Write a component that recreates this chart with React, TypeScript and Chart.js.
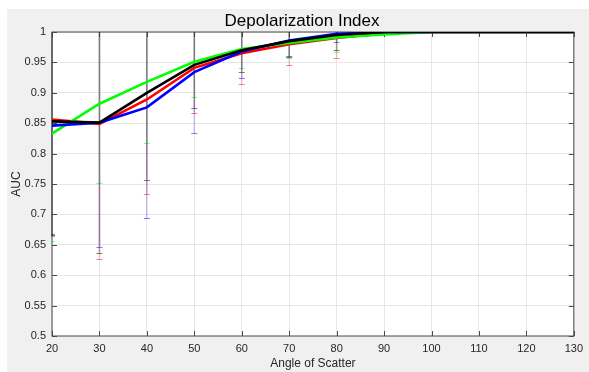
import React, { useEffect, useRef } from "react";
import { Chart, registerables } from "chart.js";

Chart.register(...registerables);

// ---- data ----
const angles = [20, 30, 40, 50, 60, 70, 80, 90, 100, 110, 120, 130];

const redAuc = [0.856, 0.849, 0.889, 0.941, 0.965, 0.98, 0.99, 0.998, 1, 1, 1, 1];
const greenAuc = [0.833, 0.882, 0.918, 0.951, 0.972, 0.982, 0.991, 0.996, 1, 1, 1, 1];
const blueAuc = [0.846, 0.851, 0.876, 0.934, 0.968, 0.986, 0.997, 1, 1, 1, 1, 1];
const blackAuc = [0.853, 0.851, 0.9, 0.946, 0.97, 0.985, 0.995, 1, 1, 1, 1, 1];

const redErr = [0.191, 0.223, 0.156, 0.075, 0.05, 0.035, 0.032, 0, 0, 0, 0, 0];
const greenErr = [0.177, 0.131, 0.1, 0.058, 0.032, 0.024, 0.024, 0, 0, 0, 0, 0];
const blueErr = [0.179, 0.204, 0.182, 0.1, 0.044, 0.026, 0.014, 0, 0, 0, 0, 0];
const blackErr = [0.187, 0.215, 0.143, 0.071, 0.035, 0.026, 0.025, 0, 0, 0, 0, 0];

const titleText = "Depolarization Index";
const xTitle = "Angle of Scatter";
const yTitle = "AUC";

const xTickValues = [20, 30, 40, 50, 60, 70, 80, 90, 100, 110, 120, 130];
const yTickValues = [0.5, 0.55, 0.6, 0.65, 0.7, 0.75, 0.8, 0.85, 0.9, 0.95, 1];

const AXIS_COLOR = "#4a4a4a";
const TEXT_COLOR = "#262626";
const FONT = "'Liberation Sans', Arial, Helvetica, sans-serif";

export default function App() {
  const ref = useRef<HTMLCanvasElement>(null);

  useEffect(() => {
    if (!ref.current) return;

    const series = [
      { label: "Black", data: blackAuc, err: blackErr, color: "#000000", rgb: "0,0,0" },
      { label: "Blue", data: blueAuc, err: blueErr, color: "#0000ff", rgb: "0,0,255" },
      { label: "Green", data: greenAuc, err: greenErr, color: "#00ff00", rgb: "0,255,0" },
      { label: "Red", data: redAuc, err: redErr, color: "#ff0000", rgb: "255,0,0" },
    ];

    const matlabPlugin = {
      id: "matlabStyle",
      beforeDraw(chart: any) {
        const { ctx, chartArea: a, width, height } = chart;
        ctx.save();
        ctx.fillStyle = "#f0f0f0";
        ctx.fillRect(0, 0, width, height);
        ctx.fillStyle = "#ffffff";
        ctx.fillRect(a.left, a.top, a.right - a.left, a.bottom - a.top);
        ctx.restore();
      },
      beforeDatasetsDraw(chart: any) {
        const { ctx, chartArea: a } = chart;
        const xs = chart.scales.x;
        const ys = chart.scales.y;
        ctx.save();
        // box
        ctx.strokeStyle = AXIS_COLOR;
        ctx.lineWidth = 1;
        ctx.strokeRect(a.left, a.top, a.right - a.left, a.bottom - a.top);
        // inward ticks
        ctx.beginPath();
        xTickValues.forEach((v) => {
          const px = Math.round(xs.getPixelForValue(v)) + 0.5;
          ctx.moveTo(px, a.bottom);
          ctx.lineTo(px, a.bottom - 5);
          ctx.moveTo(px, a.top);
          ctx.lineTo(px, a.top + 5);
        });
        yTickValues.forEach((v) => {
          const py = Math.round(ys.getPixelForValue(v)) + 0.5;
          ctx.moveTo(a.left, py);
          ctx.lineTo(a.left + 5, py);
          ctx.moveTo(a.right, py);
          ctx.lineTo(a.right - 5, py);
        });
        ctx.stroke();

        // error bars
        ctx.beginPath();
        ctx.rect(a.left - 1, a.top, a.right - a.left + 2, a.bottom - a.top);
        ctx.clip();
        series
          .slice()
          .reverse()
          .forEach((s) => {
            s.data.forEach((v, j) => {
              const e = s.err[j];
              if (!e) return;
              const px = xs.getPixelForValue(angles[j]);
              const yl = ys.getPixelForValue(v - e);
              const yh = ys.getPixelForValue(v + e);
              ctx.strokeStyle = `rgba(${s.rgb},0.2)`;
              ctx.lineWidth = 1.6;
              ctx.beginPath();
              ctx.moveTo(px, yl);
              ctx.lineTo(px, yh);
              ctx.stroke();
              ctx.strokeStyle = `rgba(${s.rgb},0.5)`;
              ctx.lineWidth = 1;
              ctx.beginPath();
              ctx.moveTo(px - 3, Math.round(yl) + 0.5);
              ctx.lineTo(px + 3, Math.round(yl) + 0.5);
              ctx.moveTo(px - 3, Math.round(yh) + 0.5);
              ctx.lineTo(px + 3, Math.round(yh) + 0.5);
              ctx.stroke();
            });
          });
        ctx.restore();
      },
      afterDraw(chart: any) {
        const { ctx } = chart;
        ctx.save();
        ctx.fillStyle = "#000000";
        ctx.font = `17px ${FONT}`;
        ctx.textAlign = "center";
        ctx.textBaseline = "alphabetic";
        ctx.fillText(titleText, 295, 17);
        ctx.restore();
      },
    };

    const chart = new Chart(ref.current, {
      type: "line",
      data: {
        datasets: series.map((s) => ({
          label: s.label,
          data: s.data.map((v, j) => ({ x: angles[j], y: v })),
          borderColor: s.color,
          backgroundColor: s.color,
          borderWidth: 2.6,
          pointRadius: 0,
          pointHoverRadius: 0,
          tension: 0,
          fill: false,
        })),
      },
      options: {
        responsive: false,
        animation: false,
        events: [],
        layout: { padding: { top: 23, right: 15, left: 0, bottom: 0 } },
        plugins: {
          legend: { display: false },
          title: { display: false },
          tooltip: { enabled: false },
        },
        scales: {
          x: {
            type: "linear",
            min: 20,
            max: 130,
            afterFit: (scale: any) => {
              scale.height = 36;
            },
            afterBuildTicks: (scale: any) => {
              scale.ticks = xTickValues.map((v) => ({ value: v }));
            },
            ticks: {
              color: TEXT_COLOR,
              font: { family: FONT, size: 11 },
              padding: 6,
              maxRotation: 0,
              autoSkip: false,
              callback: (v: any) => String(v),
            },
            grid: { color: "#e6e6e6", drawTicks: false, lineWidth: 1 },
            border: { display: false },
            title: {
              display: true,
              text: xTitle,
              color: TEXT_COLOR,
              font: { family: FONT, size: 12 },
              padding: { top: 0, bottom: 1 },
            },
          },
          y: {
            type: "linear",
            min: 0.5,
            max: 1,
            afterFit: (scale: any) => {
              scale.width = 45;
            },
            afterBuildTicks: (scale: any) => {
              scale.ticks = yTickValues.map((v) => ({ value: v }));
            },
            ticks: {
              color: TEXT_COLOR,
              font: { family: FONT, size: 11 },
              padding: 6,
              autoSkip: false,
              callback: (v: any) => String(Number(Number(v).toFixed(2))),
            },
            grid: { color: "#e6e6e6", drawTicks: false, lineWidth: 1 },
            border: { display: false },
            title: {
              display: true,
              text: yTitle,
              color: TEXT_COLOR,
              font: { family: FONT, size: 12 },
              padding: { top: 2, bottom: 0 },
            },
          },
        },
      },
      plugins: [matlabPlugin],
    } as any);

    return () => chart.destroy();
  }, []);

  return (
    <div style={{ position: "absolute", left: 7, top: 9, width: 582, height: 363 }}>
      <canvas ref={ref} width={582} height={363} style={{ display: "block" }} />
    </div>
  );
}
